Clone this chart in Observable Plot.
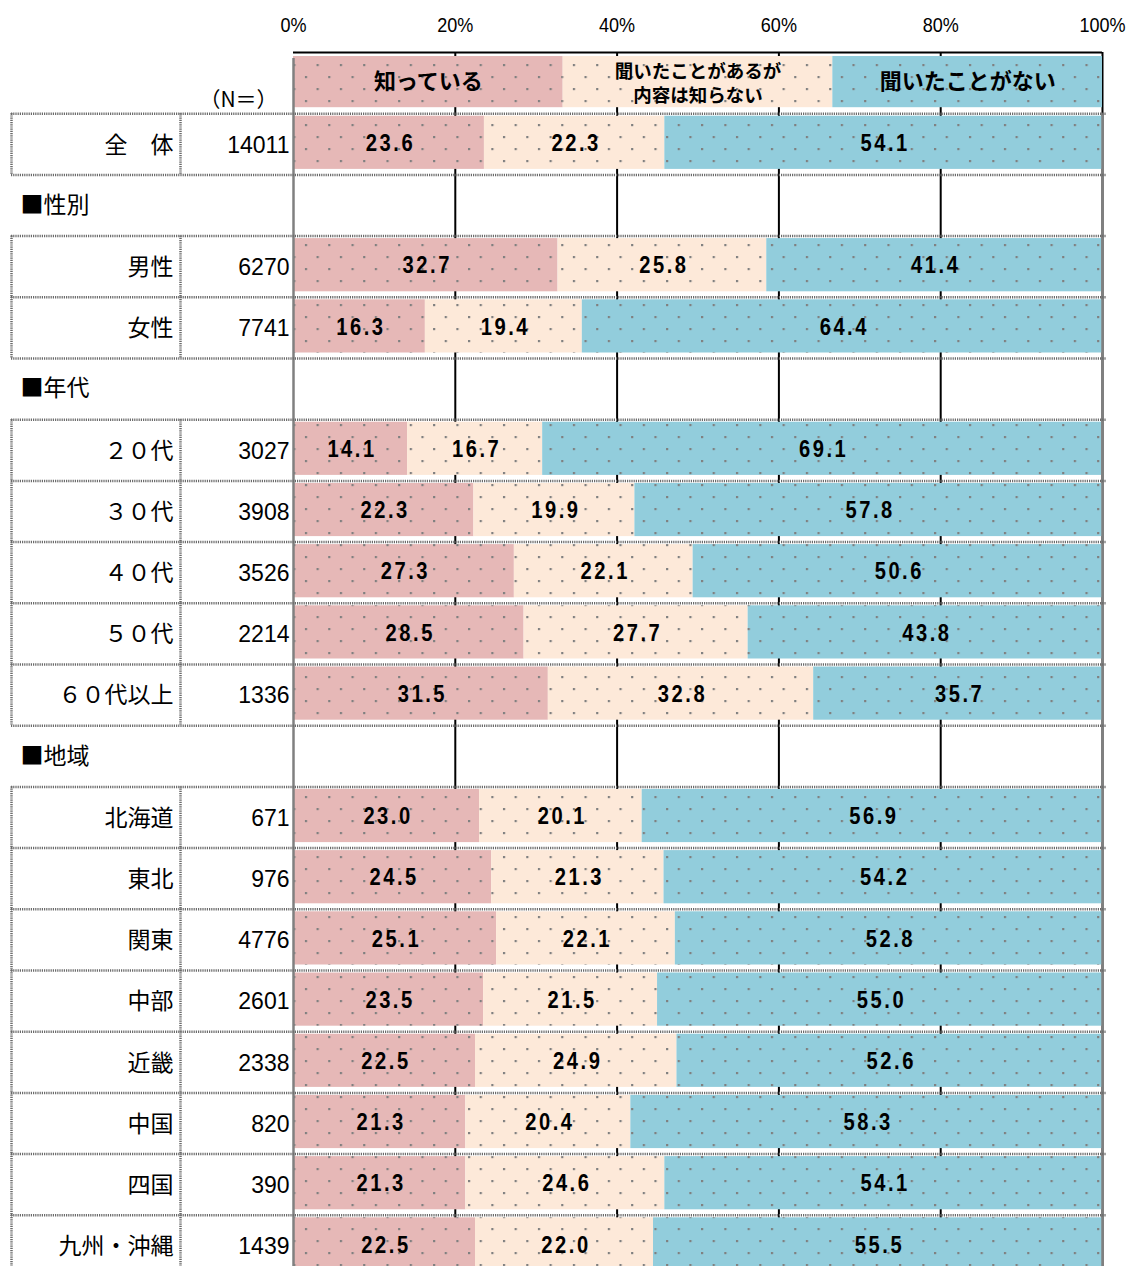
<!DOCTYPE html>
<html><head><meta charset="utf-8">
<script src="https://cdn.jsdelivr.net/npm/d3@7"></script>
<script src="https://cdn.jsdelivr.net/npm/@observablehq/plot@0.6"></script>
<style>
html,body{margin:0;padding:0;background:#fff;}
#chart svg{display:block;}
.vals text{letter-spacing:3px;}
</style></head><body><div id="chart"></div>
<script>
// ---- data ----
const categories = ["全\u3000体","男性","女性","２０代","３０代","４０代","５０代","６０代以上","北海道","東北","関東","中部","近畿","中国","四国","九州・沖縄"];
const groups = ["","性別","性別","年代","年代","年代","年代","年代","地域","地域","地域","地域","地域","地域","地域","地域"];
const nValues = [14011,6270,7741,3027,3908,3526,2214,1336,671,976,4776,2601,2338,820,390,1439];
const known = [23.6,32.7,16.3,14.1,22.3,27.3,28.5,31.5,23.0,24.5,25.1,23.5,22.5,21.3,21.3,22.5];
const heard = [22.3,25.8,19.4,16.7,19.9,22.1,27.7,32.8,20.1,21.3,22.1,21.5,24.9,20.4,24.6,22.0];
const never = [54.1,41.4,64.4,69.1,57.8,50.6,43.8,35.7,56.9,54.2,52.8,55.0,52.6,58.3,54.1,55.5];
const seriesNames = ["知っている","聞いたことがあるが\n内容は知らない","聞いたことがない"];
const seriesColors = ["#E6B8B7","#FDE9D9","#92CDDC"];
const tickValues = [0,20,40,60,80,100];
const nHeader = "（N＝）";

// ---- layout rows ----
const rows = [];
let idx = 1, prev = "";
categories.forEach((c,i)=>{
  const g = groups[i];
  if (g && g !== prev){ rows.push({idx, kind:"header", label:"■"+g}); idx++; }
  prev = g;
  rows.push({idx, kind:"data", label:c, n:nValues[i], vals:[known[i],heard[i],never[i]]});
  idx++;
});
const nRows = idx;
const dataRows = rows.filter(r=>r.kind==="data");
const headerRows = rows.filter(r=>r.kind==="header");

const segs = [];
dataRows.forEach(r=>{
  let c = 0;
  r.vals.forEach((v,k)=>{ segs.push({idx:r.idx, series:seriesNames[k], x1:c, x2:c+v, v}); c += v; });
});
const legendSegs = seriesNames.map((s,k)=>({idx:0, series:s, x1:k*100/3, x2:(k+1)*100/3, big: k!==1}));

const bounds = Array.from(new Set(dataRows.flatMap(r=>[r.idx-0.5, r.idx+0.5])));

const NUM = "'Liberation Sans',Arial,sans-serif";
const JP = "'Noto Sans CJK JP',sans-serif";
const BORDER = {stroke:"#6a6a6a", strokeWidth:2.5, strokeDasharray:"1.2 1"};

const chart = Plot.plot({
  width:1130, height:1266,
  marginLeft:293, marginRight:28, marginTop:52, marginBottom:0,
  x:{domain:[0,100]},
  y:{domain:[-0.5, nRows-0.5], range:[52, 52+nRows*61.2], axis:null},
  color:{domain:seriesNames, range:seriesColors},
  style:{fontFamily:JP, background:"#fff", color:"#000"},
  marks:[
    // gridlines
    Plot.ruleX(tickValues.slice(1), {y1:-0.5, y2:nRows-0.5, stroke:"#000", strokeWidth:2}),
    // bars
    Plot.rect(legendSegs, {x1:"x1", x2:"x2", y1:d=>d.idx-0.5, y2:d=>d.idx+0.5, fill:"series", insetTop:4, insetBottom:6}),
    Plot.rect(legendSegs, {x1:"x1", x2:"x2", y1:d=>d.idx-0.5, y2:d=>d.idx+0.5, fill:"url(#dots)", insetTop:4, insetBottom:6}),
    Plot.rect(segs, {x1:"x1", x2:"x2", y1:d=>d.idx-0.5, y2:d=>d.idx+0.5, fill:"series", insetTop:2.5, insetBottom:5.5}),
    Plot.rect(segs, {x1:"x1", x2:"x2", y1:d=>d.idx-0.5, y2:d=>d.idx+0.5, fill:"url(#dots)", insetTop:2.5, insetBottom:5.5}),
    // frame lines
    Plot.ruleY([-0.5], {x1:0, x2:100, stroke:"#000", strokeWidth:2}),
    Plot.ruleX([0], {y1:-0.4, y2:nRows-0.5, stroke:"#808080", strokeWidth:2.5}),
    Plot.ruleX([100], {y1:0.5, y2:nRows-0.5, stroke:"#808080", strokeWidth:2.5}),
    // table borders
    Plot.ruleY(bounds, {...BORDER, insetLeft:-282, insetRight:-4}),
    Plot.ruleX(dataRows, {x:0, y1:d=>d.idx-0.5, y2:d=>d.idx+0.5, dx:-282, ...BORDER}),
    Plot.ruleX(dataRows, {x:0, y1:d=>d.idx-0.5, y2:d=>d.idx+0.5, dx:-113, ...BORDER}),
    // axis tick labels
    Plot.text(tickValues, {x:d=>d, y:-0.5, text:d=>d+"%", dy:-27, fontSize:21, fontFamily:NUM, className:"narrow"}),
    // labels
    Plot.text(dataRows, {x:0, y:"idx", text:"label", dx:-120, dy:1, textAnchor:"end", fontSize:23, fontFamily:JP}),
    Plot.text(dataRows, {x:0, y:"idx", text:d=>String(d.n), dx:-4, dy:1, textAnchor:"end", fontSize:23, fontFamily:NUM}),
    Plot.text(headerRows, {x:0, y:"idx", text:"label", dx:-273, dy:0, textAnchor:"start", fontSize:23, fontFamily:JP}),
    Plot.text([nHeader], {x:0, y:0, text:d=>d, dx:-55, dy:17, textAnchor:"middle", fontSize:21, fontFamily:JP}),
    Plot.text(segs, {x:d=>(d.x1+d.x2)/2, y:"idx", text:d=>d.v.toFixed(1), dx:1.5, dy:-1, fontSize:24, fontWeight:"bold", fontFamily:NUM, className:"vals"}),
    Plot.text(legendSegs.filter(d=>d.big), {x:d=>(d.x1+d.x2)/2, y:"idx", text:"series", dy:-1, fontSize:22, fontWeight:"bold", fontFamily:JP}),
    Plot.text(legendSegs.filter(d=>!d.big), {x:d=>(d.x1+d.x2)/2, y:"idx", text:"series", dy:-1, fontSize:18.5, lineHeight:1.3, fontWeight:"bold", fontFamily:JP})
  ]
});

// narrow the numeric glyphs horizontally (condensed look)
function squeeze(sel, k){
  chart.querySelectorAll(sel).forEach(t=>{
    const tr = t.getAttribute("transform") || "";
    t.setAttribute("transform", tr + ` scale(${k},1)`);
  });
}
squeeze(".vals text", 0.84);
squeeze(".narrow text", 0.86);

const ns = "http://www.w3.org/2000/svg";
const defs = document.createElementNS(ns, "defs");
defs.innerHTML = '<pattern id="dots" patternUnits="userSpaceOnUse" x="2" y="4" width="23.3" height="24">' +
  '<rect x="0" y="0" width="2.2" height="2.2" fill="#808080"/>' +
  '<rect x="11.65" y="12" width="2.2" height="2.2" fill="#808080"/></pattern>';
chart.insertBefore(defs, chart.firstChild);
document.getElementById("chart").appendChild(chart);
</script></body></html>
